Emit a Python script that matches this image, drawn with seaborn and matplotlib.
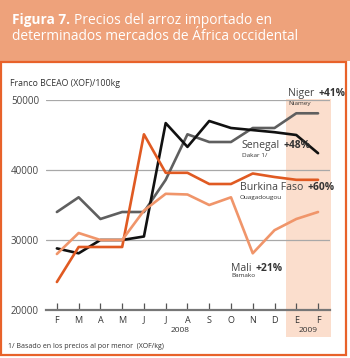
import matplotlib
matplotlib.use("Agg")
import matplotlib.pyplot as plt
import matplotlib.patches as mpatches
import seaborn as sns
import pandas as pd

months = ["F", "M", "A", "M", "J", "J", "A", "S", "O", "N", "D", "E", "F"]
niger = [34000, 36100, 33000, 34000, 34000, 38600, 45100, 44000, 44000, 46000, 46000, 48100, 48100]
senegal = [28800, 28100, 30000, 30000, 30500, 46700, 43300, 47000, 46000, 45700, 45400, 45000, 42400]
burkina = [24000, 29000, 29000, 29000, 45100, 39600, 39600, 38000, 38000, 39500, 39000, 38600, 38600]
mali = [28000, 31000, 30000, 30000, 34200, 36600, 36500, 35000, 36100, 28100, 31400, 33000, 34000]
yticks = [20000, 30000, 40000, 50000]

series_names = ["Niger", "Senegal", "Burkina", "Mali"]
colors = {"Niger": "#5f5f5f", "Senegal": "#111111", "Burkina": "#e05a22", "Mali": "#f0956a"}

rows = []
for name, vals in zip(series_names, [niger, senegal, burkina, mali]):
    for i, v in enumerate(vals):
        rows.append({"idx": i, "value": v, "serie": name})
df = pd.DataFrame(rows)

sns.set_theme(style="white")
plt.rcParams["font.family"] = ["Open Sans", "DejaVu Sans"]

fig = plt.figure(figsize=(3.5, 3.58), dpi=100)
W, H = 350, 358

# header band
fig.patches.append(mpatches.Rectangle((0, 1 - 61 / H), 1, 61 / H, transform=fig.transFigure,
                                      facecolor="#eea27b", edgecolor="none", zorder=0))
# orange frame
fig.patches.append(mpatches.Rectangle((1 / W, 3.5 / H), 345 / W, (358 - 3.5 - 62) / H,
                                      transform=fig.transFigure, facecolor="none",
                                      edgecolor="#e8622a", linewidth=1.6, zorder=1))

fig.text(12 / W, 1 - 20 / H, "Figura 7.", color="white", fontsize=9.8, fontweight="bold",
         va="center", ha="left")
fig.text(74 / W, 1 - 20 / H, "Precios del arroz importado en", color="white", fontsize=9.9,
         va="center", ha="left")
fig.text(12 / W, 1 - 37 / H, "determinados mercados de África occidental", color="white",
         fontsize=9.9, va="center", ha="left")

ax = fig.add_axes([46 / W, 1 - 310 / H, (330 - 46) / W, 210 / H])
ax.set_facecolor("none")

ax.axvspan(10.52, 12.6, ymin=-0.13, ymax=1.003, color="#fbdecd", clip_on=False, zorder=0, lw=0)

for y in yticks[1:]:
    ax.axhline(y, color="#a8a8a8", lw=0.9, zorder=1)

sns.lineplot(data=df, x="idx", y="value", hue="serie", palette=colors, ax=ax,
             linewidth=1.9, legend=False, zorder=3)

ax.set_xlim(-0.5, 12.55)
ax.set_ylim(20000, 50000)
ax.set_xticks(range(len(months)))
ax.set_xticklabels(months)
ax.set_yticks(yticks)
ax.set_yticklabels([str(v) for v in yticks])
ax.set_xlabel("")
ax.set_ylabel("")
for s in ["top", "right", "left"]:
    ax.spines[s].set_visible(False)
ax.spines["bottom"].set_color("#777777")
ax.spines["bottom"].set_linewidth(1.6)
ax.tick_params(axis="x", direction="in", length=5, width=0.9, color="#555555",
               labelsize=6.5, labelcolor="#333333", pad=4, bottom=True)
ax.tick_params(axis="y", length=0, labelsize=7.0, labelcolor="#444444", pad=5)

ax.text(5.65, -0.1, "2008", transform=ax.get_xaxis_transform(), ha="center", va="center",
        fontsize=6, color="#333333")
ax.text(11.55, -0.1, "2009", transform=ax.get_xaxis_transform(), ha="center", va="center",
        fontsize=6, color="#333333")

fig.text(10 / W, 1 - 84 / H, "Franco BCEAO (XOF)/100kg", fontsize=6.3, color="#333333",
         va="center", ha="left")
fig.text(8 / W, 1 - 347 / H, "1/ Basado en los precios al por menor  (XOF/kg)", fontsize=5.0,
         color="#333333", va="center", ha="left")

labels = [
    ("Niger", "+41%", "Niamey", 10.62, 50860, 49570),
    ("Senegal", "+48%", "Dakar 1/", 8.5, 43430, 42140),
    ("Burkina Faso", "+60%", "Ouagadougou", 8.41, 37430, 36140),
    ("Mali", "+21%", "Bamako", 8.0, 26000, 24860),
]
for name, pct, city, x, y, yc in labels:
    t = ax.text(x, y, name, fontsize=7.6, color="#444444", ha="left", va="center", zorder=5)
    ax.annotate(pct, xy=(1, 0.5), xycoords=t, xytext=(2.8, 0), textcoords="offset points",
                va="center", ha="left", fontsize=7.4,
                fontweight="bold", color="#333333", zorder=5)
    ax.text(x, yc, city, fontsize=4.6, color="#333333", ha="left", va="center", zorder=5)

fig.savefig("out.png", dpi=100)
